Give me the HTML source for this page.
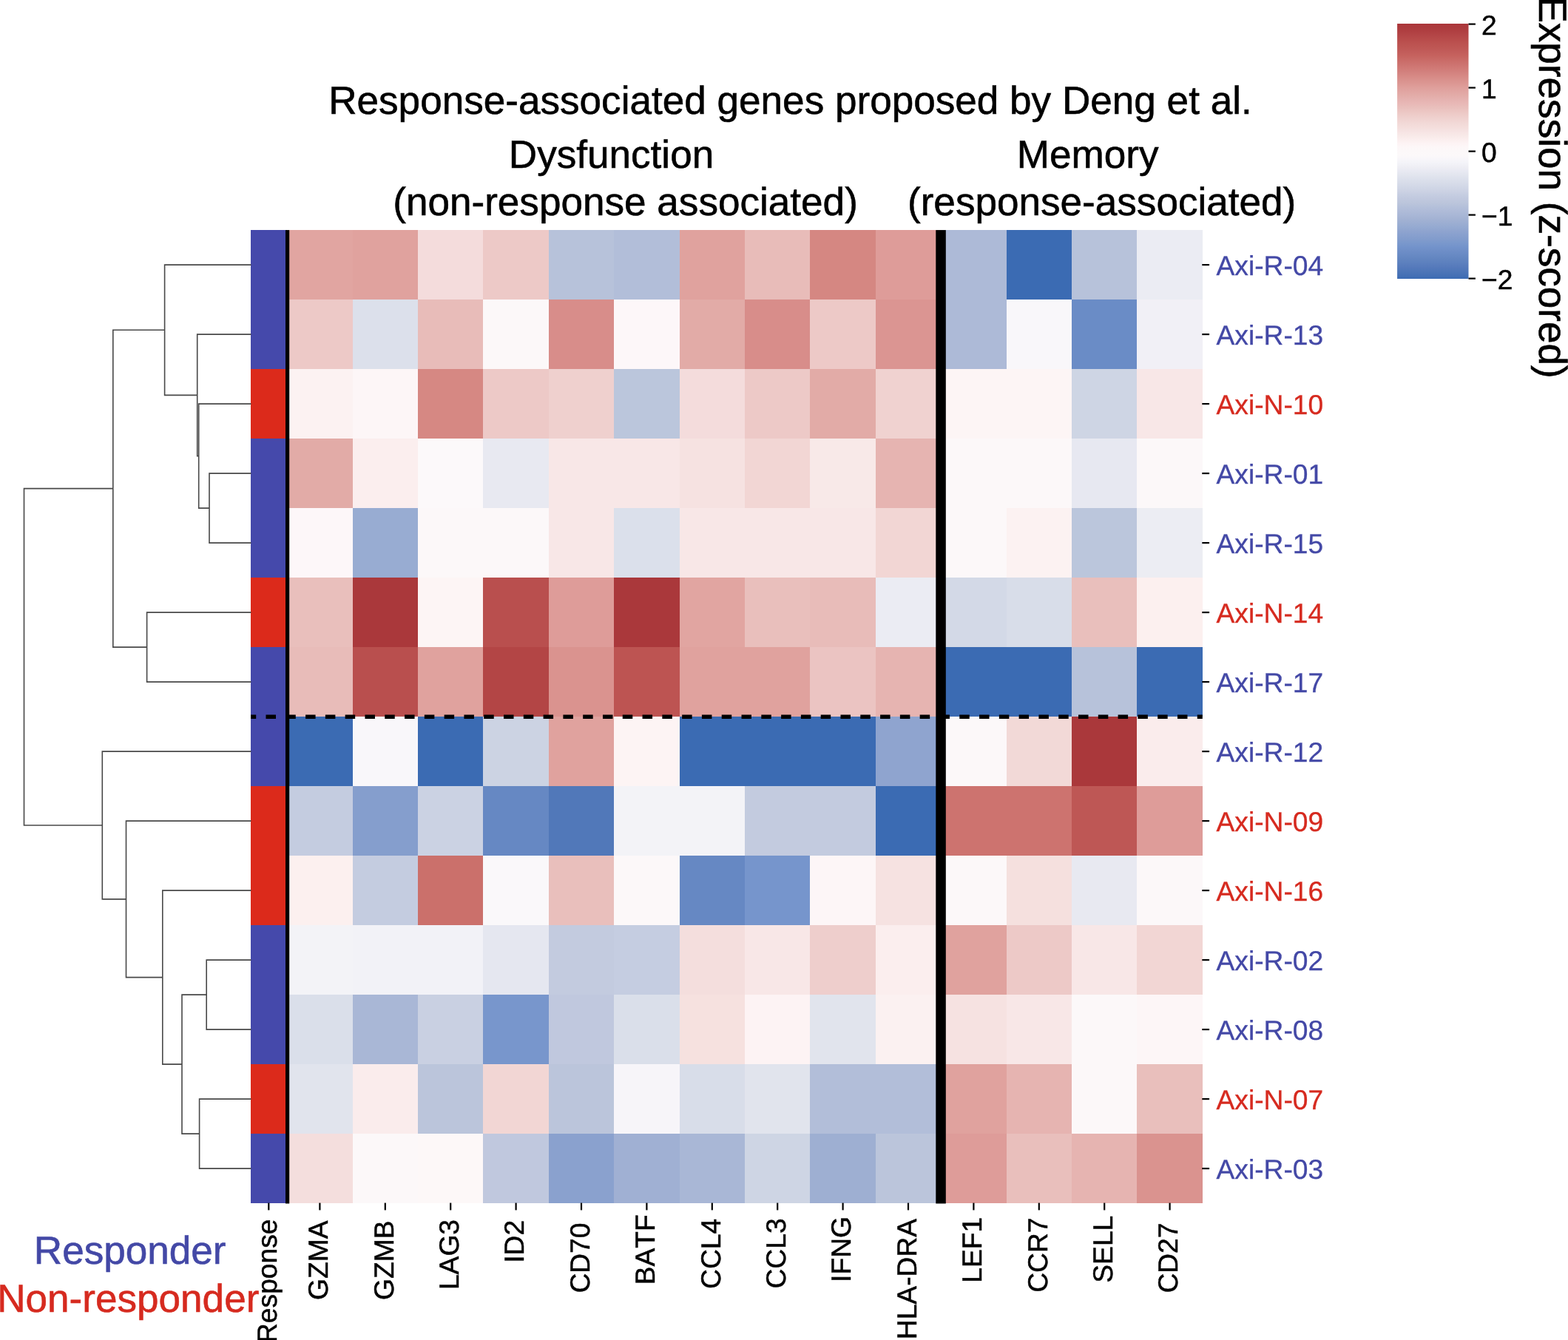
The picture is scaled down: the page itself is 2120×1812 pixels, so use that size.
<!DOCTYPE html>
<html lang="en"><head><meta charset="utf-8"><title>Response-associated genes heatmap</title>
<style>html,body{margin:0;padding:0;background:#fff;}body{width:2120px;height:1812px;overflow:hidden;}svg{display:block;}text{font-family:"Liberation Sans",sans-serif;font-kerning:none;font-variant-ligatures:none;text-rendering:geometricPrecision;}</style>
</head><body>
<svg width="2120" height="1812" viewBox="0 0 2120 1812">
<rect x="0" y="0" width="2120" height="1812" fill="#ffffff"/>
<g shape-rendering="crispEdges">
<rect x="388.20" y="311.10" width="88.90" height="94.50" fill="#e1a5a1"/>
<rect x="476.60" y="311.10" width="88.90" height="94.50" fill="#e0a29e"/>
<rect x="565.00" y="311.10" width="88.90" height="94.50" fill="#f4dcdc"/>
<rect x="653.40" y="311.10" width="88.90" height="94.50" fill="#edc9c7"/>
<rect x="741.80" y="311.10" width="88.90" height="94.50" fill="#b7c2da"/>
<rect x="830.20" y="311.10" width="88.90" height="94.50" fill="#b2bed9"/>
<rect x="918.60" y="311.10" width="88.90" height="94.50" fill="#e0a29e"/>
<rect x="1007.00" y="311.10" width="88.90" height="94.50" fill="#e8bcb9"/>
<rect x="1095.40" y="311.10" width="88.90" height="94.50" fill="#d58782"/>
<rect x="1183.80" y="311.10" width="88.90" height="94.50" fill="#de9c99"/>
<rect x="1272.20" y="311.10" width="88.90" height="94.50" fill="#adbad7"/>
<rect x="1360.60" y="311.10" width="88.90" height="94.50" fill="#3b6bb3"/>
<rect x="1449.00" y="311.10" width="88.90" height="94.50" fill="#b7c2da"/>
<rect x="1537.40" y="311.10" width="88.40" height="94.50" fill="#ebecf3"/>
<rect x="388.20" y="405.10" width="88.90" height="94.50" fill="#edc9c7"/>
<rect x="476.60" y="405.10" width="88.90" height="94.50" fill="#dce0eb"/>
<rect x="565.00" y="405.10" width="88.90" height="94.50" fill="#e8bcb9"/>
<rect x="653.40" y="405.10" width="88.90" height="94.50" fill="#fcf8f9"/>
<rect x="741.80" y="405.10" width="88.90" height="94.50" fill="#d88d8a"/>
<rect x="830.20" y="405.10" width="88.90" height="94.50" fill="#fdf7f9"/>
<rect x="918.60" y="405.10" width="88.90" height="94.50" fill="#e2aba7"/>
<rect x="1007.00" y="405.10" width="88.90" height="94.50" fill="#d88d8a"/>
<rect x="1095.40" y="405.10" width="88.90" height="94.50" fill="#edc9c7"/>
<rect x="1183.80" y="405.10" width="88.90" height="94.50" fill="#db9592"/>
<rect x="1272.20" y="405.10" width="88.90" height="94.50" fill="#adbad7"/>
<rect x="1360.60" y="405.10" width="88.90" height="94.50" fill="#f9f7fa"/>
<rect x="1449.00" y="405.10" width="88.90" height="94.50" fill="#6a8cc6"/>
<rect x="1537.40" y="405.10" width="88.40" height="94.50" fill="#f1f0f6"/>
<rect x="388.20" y="499.10" width="88.90" height="94.50" fill="#fcf2f2"/>
<rect x="476.60" y="499.10" width="88.90" height="94.50" fill="#fdf6f7"/>
<rect x="565.00" y="499.10" width="88.90" height="94.50" fill="#d68883"/>
<rect x="653.40" y="499.10" width="88.90" height="94.50" fill="#edc9c7"/>
<rect x="741.80" y="499.10" width="88.90" height="94.50" fill="#efd0ce"/>
<rect x="830.20" y="499.10" width="88.90" height="94.50" fill="#bbc6dc"/>
<rect x="918.60" y="499.10" width="88.90" height="94.50" fill="#f4dcdc"/>
<rect x="1007.00" y="499.10" width="88.90" height="94.50" fill="#edc9c7"/>
<rect x="1095.40" y="499.10" width="88.90" height="94.50" fill="#e2aba7"/>
<rect x="1183.80" y="499.10" width="88.90" height="94.50" fill="#f0d2d0"/>
<rect x="1272.20" y="499.10" width="88.90" height="94.50" fill="#fdf5f5"/>
<rect x="1360.60" y="499.10" width="88.90" height="94.50" fill="#fdf5f5"/>
<rect x="1449.00" y="499.10" width="88.90" height="94.50" fill="#ced5e4"/>
<rect x="1537.40" y="499.10" width="88.40" height="94.50" fill="#f8e7e7"/>
<rect x="388.20" y="593.10" width="88.90" height="94.50" fill="#e2aba7"/>
<rect x="476.60" y="593.10" width="88.90" height="94.50" fill="#fbeeee"/>
<rect x="565.00" y="593.10" width="88.90" height="94.50" fill="#fcf9fa"/>
<rect x="653.40" y="593.10" width="88.90" height="94.50" fill="#e8e9f1"/>
<rect x="741.80" y="593.10" width="88.90" height="94.50" fill="#f8e7e7"/>
<rect x="830.20" y="593.10" width="88.90" height="94.50" fill="#f8e7e7"/>
<rect x="918.60" y="593.10" width="88.90" height="94.50" fill="#f6e2e1"/>
<rect x="1007.00" y="593.10" width="88.90" height="94.50" fill="#f2d6d4"/>
<rect x="1095.40" y="593.10" width="88.90" height="94.50" fill="#f8e9e8"/>
<rect x="1183.80" y="593.10" width="88.90" height="94.50" fill="#e6b4b1"/>
<rect x="1272.20" y="593.10" width="88.90" height="94.50" fill="#fcf8f9"/>
<rect x="1360.60" y="593.10" width="88.90" height="94.50" fill="#fcf8f9"/>
<rect x="1449.00" y="593.10" width="88.90" height="94.50" fill="#e7e8f1"/>
<rect x="1537.40" y="593.10" width="88.40" height="94.50" fill="#fcf8f9"/>
<rect x="388.20" y="687.10" width="88.90" height="94.50" fill="#fdf7f9"/>
<rect x="476.60" y="687.10" width="88.90" height="94.50" fill="#98acd2"/>
<rect x="565.00" y="687.10" width="88.90" height="94.50" fill="#fcf8f9"/>
<rect x="653.40" y="687.10" width="88.90" height="94.50" fill="#fcf8f9"/>
<rect x="741.80" y="687.10" width="88.90" height="94.50" fill="#f8e7e7"/>
<rect x="830.20" y="687.10" width="88.90" height="94.50" fill="#dbe0eb"/>
<rect x="918.60" y="687.10" width="88.90" height="94.50" fill="#f8e7e7"/>
<rect x="1007.00" y="687.10" width="88.90" height="94.50" fill="#f8e7e7"/>
<rect x="1095.40" y="687.10" width="88.90" height="94.50" fill="#f8e7e7"/>
<rect x="1183.80" y="687.10" width="88.90" height="94.50" fill="#f2d6d4"/>
<rect x="1272.20" y="687.10" width="88.90" height="94.50" fill="#fcf8f9"/>
<rect x="1360.60" y="687.10" width="88.90" height="94.50" fill="#fcf2f2"/>
<rect x="1449.00" y="687.10" width="88.90" height="94.50" fill="#bbc6dc"/>
<rect x="1537.40" y="687.10" width="88.40" height="94.50" fill="#ecedf3"/>
<rect x="388.20" y="781.10" width="88.90" height="94.50" fill="#e9bfbc"/>
<rect x="476.60" y="781.10" width="88.90" height="94.50" fill="#aa383b"/>
<rect x="565.00" y="781.10" width="88.90" height="94.50" fill="#fdf5f5"/>
<rect x="653.40" y="781.10" width="88.90" height="94.50" fill="#b94f4e"/>
<rect x="741.80" y="781.10" width="88.90" height="94.50" fill="#de9c99"/>
<rect x="830.20" y="781.10" width="88.90" height="94.50" fill="#aa383b"/>
<rect x="918.60" y="781.10" width="88.90" height="94.50" fill="#e1a5a1"/>
<rect x="1007.00" y="781.10" width="88.90" height="94.50" fill="#e9bfbc"/>
<rect x="1095.40" y="781.10" width="88.90" height="94.50" fill="#e8bcb9"/>
<rect x="1183.80" y="781.10" width="88.90" height="94.50" fill="#ebecf3"/>
<rect x="1272.20" y="781.10" width="88.90" height="94.50" fill="#d3d9e7"/>
<rect x="1360.60" y="781.10" width="88.90" height="94.50" fill="#d8dde9"/>
<rect x="1449.00" y="781.10" width="88.90" height="94.50" fill="#e9bfbc"/>
<rect x="1537.40" y="781.10" width="88.40" height="94.50" fill="#fcf0ef"/>
<rect x="388.20" y="875.10" width="88.90" height="94.50" fill="#e8bcb9"/>
<rect x="476.60" y="875.10" width="88.90" height="94.50" fill="#b94f4e"/>
<rect x="565.00" y="875.10" width="88.90" height="94.50" fill="#e0a29e"/>
<rect x="653.40" y="875.10" width="88.90" height="94.50" fill="#b34545"/>
<rect x="741.80" y="875.10" width="88.90" height="94.50" fill="#da938f"/>
<rect x="830.20" y="875.10" width="88.90" height="94.50" fill="#bd5452"/>
<rect x="918.60" y="875.10" width="88.90" height="94.50" fill="#e0a29e"/>
<rect x="1007.00" y="875.10" width="88.90" height="94.50" fill="#e0a29e"/>
<rect x="1095.40" y="875.10" width="88.90" height="94.50" fill="#ebc4c2"/>
<rect x="1183.80" y="875.10" width="88.90" height="94.50" fill="#e6b4b1"/>
<rect x="1272.20" y="875.10" width="88.90" height="94.50" fill="#3b6bb3"/>
<rect x="1360.60" y="875.10" width="88.90" height="94.50" fill="#3b6bb3"/>
<rect x="1449.00" y="875.10" width="88.90" height="94.50" fill="#b7c2da"/>
<rect x="1537.40" y="875.10" width="88.40" height="94.50" fill="#3b6bb3"/>
<rect x="388.20" y="969.10" width="88.90" height="94.50" fill="#3b6bb3"/>
<rect x="476.60" y="969.10" width="88.90" height="94.50" fill="#f9f7fa"/>
<rect x="565.00" y="969.10" width="88.90" height="94.50" fill="#3b6bb3"/>
<rect x="653.40" y="969.10" width="88.90" height="94.50" fill="#ccd3e3"/>
<rect x="741.80" y="969.10" width="88.90" height="94.50" fill="#e0a29e"/>
<rect x="830.20" y="969.10" width="88.90" height="94.50" fill="#fdf4f4"/>
<rect x="918.60" y="969.10" width="88.90" height="94.50" fill="#3b6bb3"/>
<rect x="1007.00" y="969.10" width="88.90" height="94.50" fill="#3b6bb3"/>
<rect x="1095.40" y="969.10" width="88.90" height="94.50" fill="#3b6bb3"/>
<rect x="1183.80" y="969.10" width="88.90" height="94.50" fill="#8fa4cf"/>
<rect x="1272.20" y="969.10" width="88.90" height="94.50" fill="#fcf8f9"/>
<rect x="1360.60" y="969.10" width="88.90" height="94.50" fill="#f2d9d7"/>
<rect x="1449.00" y="969.10" width="88.90" height="94.50" fill="#aa383b"/>
<rect x="1537.40" y="969.10" width="88.40" height="94.50" fill="#faecec"/>
<rect x="388.20" y="1063.10" width="88.90" height="94.50" fill="#c4cce0"/>
<rect x="476.60" y="1063.10" width="88.90" height="94.50" fill="#859ecd"/>
<rect x="565.00" y="1063.10" width="88.90" height="94.50" fill="#cbd2e3"/>
<rect x="653.40" y="1063.10" width="88.90" height="94.50" fill="#6688c3"/>
<rect x="741.80" y="1063.10" width="88.90" height="94.50" fill="#5178b9"/>
<rect x="830.20" y="1063.10" width="88.90" height="94.50" fill="#f3f3f7"/>
<rect x="918.60" y="1063.10" width="88.90" height="94.50" fill="#f3f3f7"/>
<rect x="1007.00" y="1063.10" width="88.90" height="94.50" fill="#c3cbdf"/>
<rect x="1095.40" y="1063.10" width="88.90" height="94.50" fill="#c3cbdf"/>
<rect x="1183.80" y="1063.10" width="88.90" height="94.50" fill="#3b6bb3"/>
<rect x="1272.20" y="1063.10" width="88.90" height="94.50" fill="#cd736f"/>
<rect x="1360.60" y="1063.10" width="88.90" height="94.50" fill="#cd736f"/>
<rect x="1449.00" y="1063.10" width="88.90" height="94.50" fill="#be5755"/>
<rect x="1537.40" y="1063.10" width="88.40" height="94.50" fill="#de9c99"/>
<rect x="388.20" y="1157.10" width="88.90" height="94.50" fill="#fcf0ef"/>
<rect x="476.60" y="1157.10" width="88.90" height="94.50" fill="#c4cce0"/>
<rect x="565.00" y="1157.10" width="88.90" height="94.50" fill="#cb706b"/>
<rect x="653.40" y="1157.10" width="88.90" height="94.50" fill="#faf8fa"/>
<rect x="741.80" y="1157.10" width="88.90" height="94.50" fill="#e9bfbc"/>
<rect x="830.20" y="1157.10" width="88.90" height="94.50" fill="#fcf8f9"/>
<rect x="918.60" y="1157.10" width="88.90" height="94.50" fill="#6688c3"/>
<rect x="1007.00" y="1157.10" width="88.90" height="94.50" fill="#7695cc"/>
<rect x="1095.40" y="1157.10" width="88.90" height="94.50" fill="#fdf6f7"/>
<rect x="1183.80" y="1157.10" width="88.90" height="94.50" fill="#f6e2e1"/>
<rect x="1272.20" y="1157.10" width="88.90" height="94.50" fill="#fcf8f9"/>
<rect x="1360.60" y="1157.10" width="88.90" height="94.50" fill="#f5e0de"/>
<rect x="1449.00" y="1157.10" width="88.90" height="94.50" fill="#e8e9f1"/>
<rect x="1537.40" y="1157.10" width="88.40" height="94.50" fill="#fcf8f9"/>
<rect x="388.20" y="1251.10" width="88.90" height="94.50" fill="#f3f3f7"/>
<rect x="476.60" y="1251.10" width="88.90" height="94.50" fill="#f2f2f7"/>
<rect x="565.00" y="1251.10" width="88.90" height="94.50" fill="#f2f2f7"/>
<rect x="653.40" y="1251.10" width="88.90" height="94.50" fill="#e5e7f0"/>
<rect x="741.80" y="1251.10" width="88.90" height="94.50" fill="#c3cbdf"/>
<rect x="830.20" y="1251.10" width="88.90" height="94.50" fill="#c5cde1"/>
<rect x="918.60" y="1251.10" width="88.90" height="94.50" fill="#f4dedd"/>
<rect x="1007.00" y="1251.10" width="88.90" height="94.50" fill="#f8e7e7"/>
<rect x="1095.40" y="1251.10" width="88.90" height="94.50" fill="#eececc"/>
<rect x="1183.80" y="1251.10" width="88.90" height="94.50" fill="#fbeeee"/>
<rect x="1272.20" y="1251.10" width="88.90" height="94.50" fill="#e0a29e"/>
<rect x="1360.60" y="1251.10" width="88.90" height="94.50" fill="#edc9c7"/>
<rect x="1449.00" y="1251.10" width="88.90" height="94.50" fill="#f8e7e7"/>
<rect x="1537.40" y="1251.10" width="88.40" height="94.50" fill="#f2d6d4"/>
<rect x="388.20" y="1345.10" width="88.90" height="94.50" fill="#dadfea"/>
<rect x="476.60" y="1345.10" width="88.90" height="94.50" fill="#a9b7d6"/>
<rect x="565.00" y="1345.10" width="88.90" height="94.50" fill="#c9d0e2"/>
<rect x="653.40" y="1345.10" width="88.90" height="94.50" fill="#7896cc"/>
<rect x="741.80" y="1345.10" width="88.90" height="94.50" fill="#c0c8de"/>
<rect x="830.20" y="1345.10" width="88.90" height="94.50" fill="#dadfea"/>
<rect x="918.60" y="1345.10" width="88.90" height="94.50" fill="#f6e1df"/>
<rect x="1007.00" y="1345.10" width="88.90" height="94.50" fill="#fdf3f4"/>
<rect x="1095.40" y="1345.10" width="88.90" height="94.50" fill="#e1e4ed"/>
<rect x="1183.80" y="1345.10" width="88.90" height="94.50" fill="#fbf1f1"/>
<rect x="1272.20" y="1345.10" width="88.90" height="94.50" fill="#f6e2e1"/>
<rect x="1360.60" y="1345.10" width="88.90" height="94.50" fill="#f8e7e7"/>
<rect x="1449.00" y="1345.10" width="88.90" height="94.50" fill="#fcf8f9"/>
<rect x="1537.40" y="1345.10" width="88.40" height="94.50" fill="#fdf6f7"/>
<rect x="388.20" y="1439.10" width="88.90" height="94.50" fill="#e1e4ed"/>
<rect x="476.60" y="1439.10" width="88.90" height="94.50" fill="#faecec"/>
<rect x="565.00" y="1439.10" width="88.90" height="94.50" fill="#bbc5db"/>
<rect x="653.40" y="1439.10" width="88.90" height="94.50" fill="#f2d6d4"/>
<rect x="741.80" y="1439.10" width="88.90" height="94.50" fill="#bbc5db"/>
<rect x="830.20" y="1439.10" width="88.90" height="94.50" fill="#f7f5f9"/>
<rect x="918.60" y="1439.10" width="88.90" height="94.50" fill="#d8dde9"/>
<rect x="1007.00" y="1439.10" width="88.90" height="94.50" fill="#e1e4ed"/>
<rect x="1095.40" y="1439.10" width="88.90" height="94.50" fill="#b2bed9"/>
<rect x="1183.80" y="1439.10" width="88.90" height="94.50" fill="#b2bed9"/>
<rect x="1272.20" y="1439.10" width="88.90" height="94.50" fill="#e0a29e"/>
<rect x="1360.60" y="1439.10" width="88.90" height="94.50" fill="#e6b4b1"/>
<rect x="1449.00" y="1439.10" width="88.90" height="94.50" fill="#fcf8f9"/>
<rect x="1537.40" y="1439.10" width="88.40" height="94.50" fill="#e9bfbc"/>
<rect x="388.20" y="1533.10" width="88.90" height="94.00" fill="#f4dedd"/>
<rect x="476.60" y="1533.10" width="88.90" height="94.00" fill="#fcf8f9"/>
<rect x="565.00" y="1533.10" width="88.90" height="94.00" fill="#fdf8f8"/>
<rect x="653.40" y="1533.10" width="88.90" height="94.00" fill="#c0c8de"/>
<rect x="741.80" y="1533.10" width="88.90" height="94.00" fill="#8aa1ce"/>
<rect x="830.20" y="1533.10" width="88.90" height="94.00" fill="#a0b0d3"/>
<rect x="918.60" y="1533.10" width="88.90" height="94.00" fill="#a9b7d6"/>
<rect x="1007.00" y="1533.10" width="88.90" height="94.00" fill="#ced5e4"/>
<rect x="1095.40" y="1533.10" width="88.90" height="94.00" fill="#9eafd2"/>
<rect x="1183.80" y="1533.10" width="88.90" height="94.00" fill="#bbc5db"/>
<rect x="1272.20" y="1533.10" width="88.90" height="94.00" fill="#de9c99"/>
<rect x="1360.60" y="1533.10" width="88.90" height="94.00" fill="#e9bfbc"/>
<rect x="1449.00" y="1533.10" width="88.90" height="94.00" fill="#e6b4b1"/>
<rect x="1537.40" y="1533.10" width="88.40" height="94.00" fill="#da938f"/>
</g>
<g shape-rendering="crispEdges">
<rect x="339.00" y="311.10" width="48.50" height="94.50" fill="#4549ab"/>
<rect x="339.00" y="405.10" width="48.50" height="94.50" fill="#4549ab"/>
<rect x="339.00" y="499.10" width="48.50" height="94.50" fill="#dc2a1b"/>
<rect x="339.00" y="593.10" width="48.50" height="94.50" fill="#4549ab"/>
<rect x="339.00" y="687.10" width="48.50" height="94.50" fill="#4549ab"/>
<rect x="339.00" y="781.10" width="48.50" height="94.50" fill="#dc2a1b"/>
<rect x="339.00" y="875.10" width="48.50" height="94.50" fill="#4549ab"/>
<rect x="339.00" y="969.10" width="48.50" height="94.50" fill="#4549ab"/>
<rect x="339.00" y="1063.10" width="48.50" height="94.50" fill="#dc2a1b"/>
<rect x="339.00" y="1157.10" width="48.50" height="94.50" fill="#dc2a1b"/>
<rect x="339.00" y="1251.10" width="48.50" height="94.50" fill="#4549ab"/>
<rect x="339.00" y="1345.10" width="48.50" height="94.50" fill="#4549ab"/>
<rect x="339.00" y="1439.10" width="48.50" height="94.50" fill="#dc2a1b"/>
<rect x="339.00" y="1533.10" width="48.50" height="94.00" fill="#4549ab"/>
</g>
<rect x="386.0" y="311.10" width="5.2" height="1316.40" fill="#000"/>
<rect x="1265.3" y="311.10" width="13.5" height="1316.40" fill="#000"/>
<clipPath id="cl"><rect x="339.00" y="900" width="1286.80" height="140"/></clipPath>
<line x1="332.7" y1="969.2" x2="1640" y2="969.2" stroke="#000" stroke-width="5.6" stroke-dasharray="13.5 13.293" clip-path="url(#cl)"/>
<g stroke="#000" stroke-width="2.2" fill="none">
<line x1="363.30" y1="1626.60" x2="363.30" y2="1636.40"/>
<line x1="432.40" y1="1626.60" x2="432.40" y2="1636.40"/>
<line x1="520.80" y1="1626.60" x2="520.80" y2="1636.40"/>
<line x1="609.20" y1="1626.60" x2="609.20" y2="1636.40"/>
<line x1="697.60" y1="1626.60" x2="697.60" y2="1636.40"/>
<line x1="786.00" y1="1626.60" x2="786.00" y2="1636.40"/>
<line x1="874.40" y1="1626.60" x2="874.40" y2="1636.40"/>
<line x1="962.80" y1="1626.60" x2="962.80" y2="1636.40"/>
<line x1="1051.20" y1="1626.60" x2="1051.20" y2="1636.40"/>
<line x1="1139.60" y1="1626.60" x2="1139.60" y2="1636.40"/>
<line x1="1228.00" y1="1626.60" x2="1228.00" y2="1636.40"/>
<line x1="1316.40" y1="1626.60" x2="1316.40" y2="1636.40"/>
<line x1="1404.80" y1="1626.60" x2="1404.80" y2="1636.40"/>
<line x1="1493.20" y1="1626.60" x2="1493.20" y2="1636.40"/>
<line x1="1581.60" y1="1626.60" x2="1581.60" y2="1636.40"/>
<line x1="1625.30" y1="358.10" x2="1635.10" y2="358.10"/>
<line x1="1625.30" y1="452.10" x2="1635.10" y2="452.10"/>
<line x1="1625.30" y1="546.10" x2="1635.10" y2="546.10"/>
<line x1="1625.30" y1="640.10" x2="1635.10" y2="640.10"/>
<line x1="1625.30" y1="734.10" x2="1635.10" y2="734.10"/>
<line x1="1625.30" y1="828.10" x2="1635.10" y2="828.10"/>
<line x1="1625.30" y1="922.10" x2="1635.10" y2="922.10"/>
<line x1="1625.30" y1="1016.10" x2="1635.10" y2="1016.10"/>
<line x1="1625.30" y1="1110.10" x2="1635.10" y2="1110.10"/>
<line x1="1625.30" y1="1204.10" x2="1635.10" y2="1204.10"/>
<line x1="1625.30" y1="1298.10" x2="1635.10" y2="1298.10"/>
<line x1="1625.30" y1="1392.10" x2="1635.10" y2="1392.10"/>
<line x1="1625.30" y1="1486.10" x2="1635.10" y2="1486.10"/>
<line x1="1625.30" y1="1580.10" x2="1635.10" y2="1580.10"/>
</g>
<g font-size="37.20" fill="#000" stroke="#000" stroke-width="0.50">
<text transform="translate(374.10,1816.00) rotate(-90) scale(1,1.000)">Response</text>
<text transform="translate(443.20,1757.90) rotate(-90) scale(1,1.000)">GZMA</text>
<text transform="translate(531.60,1757.90) rotate(-90) scale(1,1.000)">GZMB</text>
<text transform="translate(620.00,1744.10) rotate(-90) scale(1,1.000)">LAG3</text>
<text transform="translate(708.40,1707.80) rotate(-90) scale(1,1.000)">ID2</text>
<text transform="translate(796.80,1748.60) rotate(-90) scale(1,1.000)">CD70</text>
<text transform="translate(885.20,1737.30) rotate(-90) scale(1,1.000)">BATF</text>
<text transform="translate(973.60,1742.90) rotate(-90) scale(1,1.000)">CCL4</text>
<text transform="translate(1062.00,1742.50) rotate(-90) scale(1,1.000)">CCL3</text>
<text transform="translate(1150.40,1733.90) rotate(-90) scale(1,1.000)">IFNG</text>
<text transform="translate(1238.80,1811.20) rotate(-90) scale(1,1.000)">HLA-DRA</text>
<text transform="translate(1327.20,1734.70) rotate(-90) scale(1,1.000)">LEF1</text>
<text transform="translate(1415.60,1747.80) rotate(-90) scale(1,1.000)">CCR7</text>
<text transform="translate(1504.00,1734.70) rotate(-90) scale(1,1.000)">SELL</text>
<text transform="translate(1592.40,1748.60) rotate(-90) scale(1,1.000)">CD27</text>
</g>
<g font-size="37.20" stroke-width="0.30">
<text transform="translate(1644.5,371.60) scale(1,1.000)" fill="#4348a6" stroke="#4348a6">Axi-R-04</text>
<text transform="translate(1644.5,465.60) scale(1,1.000)" fill="#4348a6" stroke="#4348a6">Axi-R-13</text>
<text transform="translate(1644.5,559.60) scale(1,1.000)" fill="#d62a1f" stroke="#d62a1f">Axi-N-10</text>
<text transform="translate(1644.5,653.60) scale(1,1.000)" fill="#4348a6" stroke="#4348a6">Axi-R-01</text>
<text transform="translate(1644.5,747.60) scale(1,1.000)" fill="#4348a6" stroke="#4348a6">Axi-R-15</text>
<text transform="translate(1644.5,841.60) scale(1,1.000)" fill="#d62a1f" stroke="#d62a1f">Axi-N-14</text>
<text transform="translate(1644.5,935.60) scale(1,1.000)" fill="#4348a6" stroke="#4348a6">Axi-R-17</text>
<text transform="translate(1644.5,1029.60) scale(1,1.000)" fill="#4348a6" stroke="#4348a6">Axi-R-12</text>
<text transform="translate(1644.5,1123.60) scale(1,1.000)" fill="#d62a1f" stroke="#d62a1f">Axi-N-09</text>
<text transform="translate(1644.5,1217.60) scale(1,1.000)" fill="#d62a1f" stroke="#d62a1f">Axi-N-16</text>
<text transform="translate(1644.5,1311.60) scale(1,1.000)" fill="#4348a6" stroke="#4348a6">Axi-R-02</text>
<text transform="translate(1644.5,1405.60) scale(1,1.000)" fill="#4348a6" stroke="#4348a6">Axi-R-08</text>
<text transform="translate(1644.5,1499.60) scale(1,1.000)" fill="#d62a1f" stroke="#d62a1f">Axi-N-07</text>
<text transform="translate(1644.5,1593.60) scale(1,1.000)" fill="#4348a6" stroke="#4348a6">Axi-R-03</text>
</g>
<g font-size="53.10" stroke-width="0.60">
<text transform="translate(444.20,154.30) scale(1,1.000)" fill="#000" stroke="#000">Response-associated genes proposed by Deng et al.</text>
<text transform="translate(687.80,227.40) scale(1,1.000)" fill="#000" stroke="#000">Dysfunction</text>
<text transform="translate(531.20,291.20) scale(1,1.000)" fill="#000" stroke="#000">(non-response associated)</text>
<text transform="translate(1374.70,227.40) scale(1,1.000)" fill="#000" stroke="#000">Memory</text>
<text transform="translate(1227.00,291.20) scale(1,1.000)" fill="#000" stroke="#000">(response-associated)</text>
<text transform="translate(2081.00,-4.60) rotate(90) scale(1,1.000)" fill="#000" stroke="#000">Expression (z-scored)</text>
<text transform="translate(45.80,1709.30) scale(1,1.000)" fill="#4348a6" stroke="#4348a6">Responder</text>
<text transform="translate(-3.80,1773.80) scale(1,1.000)" fill="#d62a1f" stroke="#d62a1f">Non-responder</text>
</g>
<defs><linearGradient id="cb" x1="0" y1="0" x2="0" y2="1">
<stop offset="0.0000" stop-color="#aa363a"/>
<stop offset="0.0156" stop-color="#ad3a3d"/>
<stop offset="0.0312" stop-color="#b04042"/>
<stop offset="0.0469" stop-color="#b44647"/>
<stop offset="0.0625" stop-color="#b84c4b"/>
<stop offset="0.0781" stop-color="#bc5250"/>
<stop offset="0.0938" stop-color="#be5754"/>
<stop offset="0.1094" stop-color="#c25c5a"/>
<stop offset="0.1250" stop-color="#c6625e"/>
<stop offset="0.1406" stop-color="#c96a66"/>
<stop offset="0.1562" stop-color="#cc716e"/>
<stop offset="0.1719" stop-color="#d07975"/>
<stop offset="0.1875" stop-color="#d2807d"/>
<stop offset="0.2031" stop-color="#d68884"/>
<stop offset="0.2188" stop-color="#d9908c"/>
<stop offset="0.2344" stop-color="#dc9793"/>
<stop offset="0.2500" stop-color="#df9f9b"/>
<stop offset="0.2656" stop-color="#e1a5a2"/>
<stop offset="0.2812" stop-color="#e3aca8"/>
<stop offset="0.2969" stop-color="#e5b2b0"/>
<stop offset="0.3125" stop-color="#e8b8b6"/>
<stop offset="0.3281" stop-color="#e9bfbc"/>
<stop offset="0.3438" stop-color="#ecc6c3"/>
<stop offset="0.3594" stop-color="#eecdca"/>
<stop offset="0.3750" stop-color="#f0d3d1"/>
<stop offset="0.3906" stop-color="#f2d9d7"/>
<stop offset="0.4062" stop-color="#f4dedc"/>
<stop offset="0.4219" stop-color="#f6e3e3"/>
<stop offset="0.4375" stop-color="#f8e9e8"/>
<stop offset="0.4531" stop-color="#fbeeee"/>
<stop offset="0.4688" stop-color="#fdf3f4"/>
<stop offset="0.4844" stop-color="#fdf7f8"/>
<stop offset="0.5000" stop-color="#fcf8f9"/>
<stop offset="0.5156" stop-color="#fcf9fa"/>
<stop offset="0.5312" stop-color="#f8f6fa"/>
<stop offset="0.5469" stop-color="#f3f3f8"/>
<stop offset="0.5625" stop-color="#eeeef4"/>
<stop offset="0.5781" stop-color="#e8e9f2"/>
<stop offset="0.5938" stop-color="#e2e5ee"/>
<stop offset="0.6094" stop-color="#dce0ec"/>
<stop offset="0.6250" stop-color="#d7dce9"/>
<stop offset="0.6406" stop-color="#d1d7e6"/>
<stop offset="0.6562" stop-color="#ccd2e4"/>
<stop offset="0.6719" stop-color="#c5cde1"/>
<stop offset="0.6875" stop-color="#c0c8de"/>
<stop offset="0.7031" stop-color="#bbc5db"/>
<stop offset="0.7188" stop-color="#b4c0da"/>
<stop offset="0.7344" stop-color="#afbbd8"/>
<stop offset="0.7500" stop-color="#a9b7d6"/>
<stop offset="0.7656" stop-color="#a3b2d3"/>
<stop offset="0.7812" stop-color="#9caed2"/>
<stop offset="0.7969" stop-color="#95aad1"/>
<stop offset="0.8125" stop-color="#8fa4cf"/>
<stop offset="0.8281" stop-color="#88a0ce"/>
<stop offset="0.8438" stop-color="#829ccc"/>
<stop offset="0.8594" stop-color="#7a98cc"/>
<stop offset="0.8750" stop-color="#7393cb"/>
<stop offset="0.8906" stop-color="#6e8ec7"/>
<stop offset="0.9062" stop-color="#688ac4"/>
<stop offset="0.9219" stop-color="#6285c0"/>
<stop offset="0.9375" stop-color="#5c80be"/>
<stop offset="0.9531" stop-color="#567abb"/>
<stop offset="0.9688" stop-color="#4e76b8"/>
<stop offset="0.9844" stop-color="#4671b5"/>
<stop offset="1.0000" stop-color="#3b6bb3"/>
</linearGradient></defs>
<rect x="1889.10" y="32.00" width="96.40" height="345.00" fill="url(#cb)"/>
<g stroke="#000" stroke-width="2.2">
<line x1="1985.50" y1="32.60" x2="1994.90" y2="32.60"/>
<line x1="1985.50" y1="118.60" x2="1994.90" y2="118.60"/>
<line x1="1985.50" y1="204.60" x2="1994.90" y2="204.60"/>
<line x1="1985.50" y1="290.60" x2="1994.90" y2="290.60"/>
<line x1="1985.50" y1="376.60" x2="1994.90" y2="376.60"/>
</g>
<g font-size="37.20" fill="#000" stroke="#000" stroke-width="0.50">
<text transform="translate(2003,46.60) scale(1,1.000)">2</text>
<text transform="translate(2003,132.60) scale(1,1.000)">1</text>
<text transform="translate(2003,218.60) scale(1,1.000)">0</text>
<text transform="translate(2003,304.60) scale(1,1.000)">−1</text>
<text transform="translate(2003,390.60) scale(1,1.000)">−2</text>
</g>
<path d="M339.50 640.10 L283.00 640.10 L283.00 734.10 L339.50 734.10 M339.50 546.10 L268.70 546.10 L268.70 687.10 L283.00 687.10 M339.50 452.10 L266.70 452.10 L266.70 616.60 L268.70 616.60 M339.50 358.10 L222.60 358.10 L222.60 534.35 L266.70 534.35 M339.50 828.10 L198.60 828.10 L198.60 922.10 L339.50 922.10 M222.60 446.23 L152.80 446.23 L152.80 875.10 L198.60 875.10 M339.50 1298.10 L279.20 1298.10 L279.20 1392.10 L339.50 1392.10 M339.50 1486.10 L269.60 1486.10 L269.60 1580.10 L339.50 1580.10 M279.20 1345.10 L246.00 1345.10 L246.00 1533.10 L269.60 1533.10 M339.50 1204.10 L219.80 1204.10 L219.80 1439.10 L246.00 1439.10 M339.50 1110.10 L170.50 1110.10 L170.50 1321.60 L219.80 1321.60 M339.50 1016.10 L138.30 1016.10 L138.30 1215.85 L170.50 1215.85 M152.80 660.66 L32.50 660.66 L32.50 1115.97 L138.30 1115.97" fill="none" stroke="#484848" stroke-width="1.6" stroke-linejoin="miter"/>
</svg></body></html>
